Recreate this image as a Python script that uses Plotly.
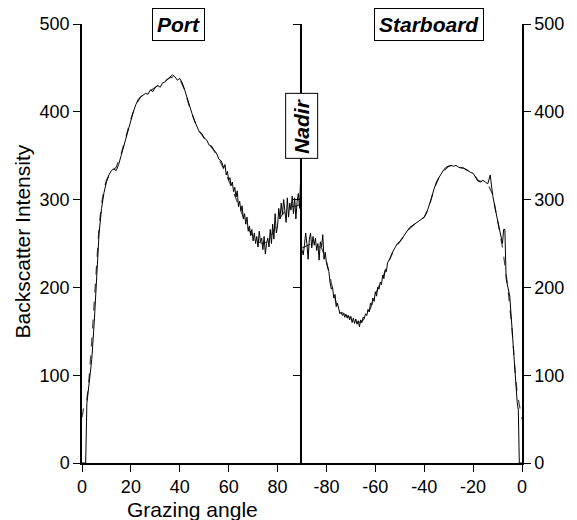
import plotly.graph_objects as go
from plotly.subplots import make_subplots

# ---- Port side (grazing angle 0..90) ----
port_solid_angle = [0, 1.5, 2, 3, 4, 5, 6, 7, 8, 9, 10, 11, 12, 13, 14, 15, 16, 17, 18, 19,
                    20, 21, 22, 23, 24, 25, 26, 27, 28, 29, 30, 31, 32, 33, 34, 35, 36, 37, 38, 39,
                    40, 41, 42, 43, 44, 45, 46, 47, 48, 49, 50, 51, 52, 53, 54, 55, 56, 57,
                    58, 58.5, 59, 59.5, 60, 60.5, 61, 61.5, 62, 62.5, 63, 63.5, 64, 64.5, 65, 65.5,
                    66, 66.5, 67, 67.5, 68, 68.5, 69, 69.5, 70, 70.5, 71, 71.5, 72, 72.5, 73, 73.5,
                    74, 74.5, 75, 75.5, 76, 76.5, 77, 77.5, 78, 78.5, 79, 79.5, 80, 80.5, 81, 81.5,
                    82, 82.5, 83, 83.5, 84, 84.5, 85, 85.5, 86, 86.5, 87, 87.5, 88, 88.5, 89, 89.5]
port_solid = [0, 0, 68, 90, 118, 160, 215, 262, 290, 308, 320, 328, 333, 335, 333, 340, 350, 360, 370, 382,
              392, 400, 408, 414, 417, 419, 421, 420, 425, 423, 428, 430, 428, 433, 434, 437, 439, 442, 440, 436,
              438, 433, 425, 415, 405, 398, 390, 384, 377, 375, 370, 368, 362, 361, 356, 353, 346, 344,
              336, 340, 328, 332, 322, 325, 316, 320, 309, 314, 303, 310, 292, 298, 287, 293,
              278, 284, 272, 280, 264, 270, 259, 266, 253, 262, 250, 258, 246, 264, 252, 256,
              243, 258, 238, 250, 256, 246, 266, 250, 272, 255, 284, 262, 270, 290, 278, 296,
              283, 300, 286, 274, 302, 280, 296, 288, 304, 284, 302, 278, 298, 307, 290, 330]
port_dashed_angle = [0, 1, 2, 3, 4, 5, 6, 7, 8, 9, 10, 12, 14, 16, 18, 20, 22, 24, 26, 28, 30,
                     32, 34, 36, 38, 40, 42, 44, 46, 48, 50, 52, 54, 56, 58, 60, 62, 64, 66, 68,
                     70, 72, 74, 76, 78, 80, 82, 84, 86, 88, 89.5]
port_dashed = [52, 68, 72, 100, 140, 185, 232, 270, 295, 312, 322, 332, 337, 352, 372, 392, 408, 417, 421, 424, 428,
               431, 435, 439, 440, 437, 425, 405, 390, 378, 370, 363, 356, 346, 335, 322, 309, 294, 280, 267,
               257, 252, 250, 252, 262, 275, 283, 290, 292, 293, 295]

# ---- Starboard side (grazing angle -90..0) ----
stbd_solid_angle = [-90, -89.5, -89, -88.5, -88, -87.5, -87, -86.5, -86, -85.5, -85, -84.5, -84, -83.5,
                    -83, -82.5, -82, -81.5, -81, -80.5, -80, -79.5, -79, -78.5, -78, -77.5, -77, -76.5,
                    -76, -75.5, -75, -74.5, -74, -73.5, -73, -72.5, -72, -71.5, -71, -70.5, -70, -69.5,
                    -69, -68.5, -68, -67.5, -67, -66.5, -66, -65.5, -65, -64.5, -64, -63.5, -63, -62.5,
                    -62, -61.5, -61, -60.5, -60, -59.5, -59, -58.5, -58, -57.5, -57, -56.5, -56, -55.5, -55,
                    -54, -53, -52, -51, -50, -49, -48, -47, -46, -45, -44, -43, -42, -41, -40, -39, -38,
                    -37, -36, -35, -34, -33, -32, -31, -30, -29, -28, -27, -26, -25, -24, -23, -22, -21,
                    -20, -19, -18, -17, -16, -15, -14, -13, -12, -11, -10, -9, -8, -7.5, -7, -6.5, -6,
                    -5, -4, -3, -2, -1.5, -1.1, 0]
stbd_solid = [243, 237, 248, 262, 250, 232, 255, 262, 245, 258, 248, 256, 242, 250,
              231, 252, 246, 260, 232, 240, 228, 222, 218, 205, 198, 200, 188, 192,
              178, 182, 175, 170, 172, 168, 170, 166, 169, 165, 168, 163, 167, 160,
              165, 159, 164, 158, 162, 155, 163, 160, 166, 165, 170, 168, 175, 172,
              182, 180, 188, 184, 195, 190, 200, 198, 206, 203, 214, 210, 220, 218, 228,
              233, 240, 246, 250, 252, 256, 260, 263, 268, 270, 272, 274, 276, 278, 280, 285, 293,
              302, 312, 320, 325, 330, 334, 337, 338, 339, 338, 339, 337, 336, 336, 334, 333, 331,
              330, 326, 321, 320, 322, 320, 318, 328, 305, 290, 277, 265, 250, 266, 266, 210, 203,
              190, 150, 105, 70, 60, 0, 0]
stbd_dashed_angle = [-90, -86, -82, -80, -78, -76, -74, -72, -70, -68, -66, -64, -62, -60, -58, -56,
                     -54, -52, -50, -48, -46, -44, -42, -40, -38, -36, -34, -32, -30, -28, -26, -24,
                     -22, -20, -18, -16, -14, -12, -10, -8, -6, -4, -3, -2, -1, -0.3, 0]
stbd_dashed = [245, 250, 245, 230, 205, 182, 172, 168, 165, 162, 160, 166, 176, 192, 204, 218,
               233, 245, 252, 259, 267, 272, 276, 280, 292, 312, 325, 333, 338, 339, 337, 336,
               333, 330, 322, 320, 318, 306, 278, 246, 205, 150, 110, 80, 65, 57, 50]

y_ticks = [0, 100, 200, 300, 400, 500]
port_ticks = [0, 20, 40, 60, 80]
stbd_ticks = [-80, -60, -40, -20, 0]
stbd_tick_text = ["-80", "-60", "-40", "-20", "0"]

FONT = "Liberation Sans, Arial, Helvetica, sans-serif"

fig = make_subplots(rows=1, cols=2, horizontal_spacing=0)

solid_style = dict(color="black", width=1)
dash_style = dict(color="#444444", width=1.2, dash="dash")

fig.add_trace(go.Scatter(x=port_dashed_angle, y=port_dashed, mode="lines", line=dash_style,
                         showlegend=False), row=1, col=1)
fig.add_trace(go.Scatter(x=port_solid_angle, y=port_solid, mode="lines", line=solid_style,
                         showlegend=False), row=1, col=1)
fig.add_trace(go.Scatter(x=stbd_dashed_angle, y=stbd_dashed, mode="lines", line=dash_style,
                         showlegend=False), row=1, col=2)
fig.add_trace(go.Scatter(x=stbd_solid_angle, y=stbd_solid, mode="lines", line=solid_style,
                         showlegend=False), row=1, col=2)

axis_common = dict(showgrid=False, zeroline=False, showline=True, linecolor="black", linewidth=1.5,
                   ticks="outside", ticklen=7, tickwidth=1.3, tickcolor="black", automargin=False,
                   tickfont=dict(family=FONT, size=18, color="black"))

fig.update_xaxes(domain=[0, 0.5], range=[0, 90], tickvals=port_ticks, **axis_common, row=1, col=1)
fig.update_xaxes(domain=[0.5, 1], range=[-90, 0], tickvals=stbd_ticks, ticktext=stbd_tick_text,
                 **axis_common, row=1, col=2)
fig.update_yaxes(range=[0, 500], tickvals=y_ticks, **axis_common, row=1, col=1)
fig.update_yaxes(range=[0, 500], tickvals=y_ticks, side="right", mirror="ticks", **axis_common, row=1, col=2)

box = dict(showarrow=False, bordercolor="black", borderwidth=1, bgcolor="white", borderpad=4,
           xanchor="center", yanchor="middle",
           font=dict(family=FONT, size=21, color="black"))
fig.add_annotation(x=0.219, y=1.0, xref="paper", yref="paper", text="<b><i>Port</i></b>", **box)
fig.add_annotation(x=0.7875, y=1.0, xref="paper", yref="paper", text="<b><i>Starboard</i></b>", **box)
fig.add_annotation(x=0.5, y=0.768, xref="paper", yref="paper", textangle=-90,
                   text="<b><i>Nadir</i></b>", **box)

fig.add_annotation(x=-0.136, y=0.505, xref="paper", yref="paper", textangle=-90, showarrow=False,
                   xanchor="center", yanchor="middle",
                   text="Backscatter Intensity", font=dict(family=FONT, size=21, color="black"))
fig.add_annotation(x=0.25, y=-0.105, xref="paper", yref="paper", showarrow=False,
                   xanchor="center", yanchor="middle",
                   text="Grazing angle", font=dict(family=FONT, size=21, color="black"))

fig.update_layout(width=561, height=512, margin=dict(l=74, r=47, t=16, b=57),
                  paper_bgcolor="white", plot_bgcolor="white", showlegend=False)

fig.write_html("out.html")
